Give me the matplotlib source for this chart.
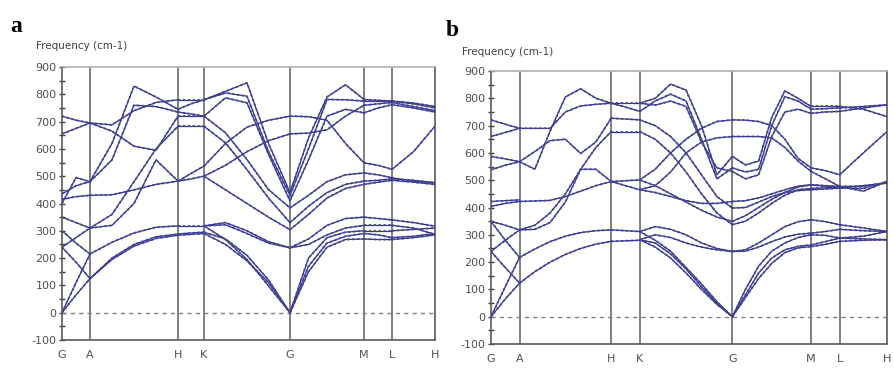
import numpy as np
import matplotlib
matplotlib.use('Agg')
import matplotlib.pyplot as plt
from matplotlib.ticker import MultipleLocator

plt.rcParams['axes.unicode_minus'] = False

# high symmetry path (same labels for both panels)
klabels = ['G', 'A', 'H', 'K', 'G', 'M', 'L', 'H']
# path position of each label (arbitrary length units)
kpos_a = [0, 28, 116, 142, 228, 302, 330, 373]
kpos_b = [0, 29, 122, 151, 245, 325, 354, 402]

# branches per segment, frequency (cm-1) at evenly spaced points along the segment
a_GA = [[0, 65, 125], [240, 185, 125], [0, 110, 215], [300, 255, 215], [240, 275, 310],
        [350, 330, 310], [415, 425, 430], [400, 495, 480], [435, 465, 480],
        [720, 705, 695], [655, 675, 695]]
a_AH = [[125, 195, 244, 272, 284], [125, 200, 250, 278, 288], [215, 258, 292, 313, 318],
        [310, 320, 400, 560, 482], [310, 360, 480, 600, 683], [430, 432, 450, 470, 482],
        [480, 620, 830, 790, 745], [480, 560, 760, 755, 735], [695, 688, 740, 770, 780],
        [695, 665, 610, 595, 720]]
a_HK = [[284, 287, 290], [288, 292, 295], [318, 318, 318], [482, 490, 500], [482, 510, 537],
        [683, 683, 683], [720, 720, 720], [735, 728, 720], [745, 765, 780], [780, 780, 780]]
a_KG = [[290, 250, 190, 110, 0], [295, 270, 210, 120, 0], [318, 268, 195, 98, 0],
        [318, 330, 300, 260, 238], [318, 322, 290, 255, 238], [500, 450, 400, 350, 304],
        [500, 540, 590, 630, 655], [537, 620, 680, 705, 720], [683, 622, 524, 420, 330],
        [720, 659, 561, 451, 384], [720, 787, 769, 580, 410], [780, 805, 793, 590, 430],
        [780, 811, 842, 620, 440]]
a_GM = [[0, 150, 240, 268, 270], [0, 170, 255, 280, 290], [0, 200, 275, 295, 300],
        [238, 250, 285, 310, 320], [238, 270, 320, 345, 350], [304, 360, 420, 455, 470],
        [330, 390, 440, 470, 482], [384, 430, 480, 505, 512], [410, 560, 720, 745, 732],
        [430, 600, 781, 780, 775], [440, 640, 790, 835, 781], [720, 718, 705, 620, 549],
        [655, 658, 670, 720, 760]]
a_ML = [[270, 268, 268], [290, 285, 275], [300, 300, 300], [320, 320, 320], [350, 345, 340],
        [470, 478, 485], [482, 485, 490], [512, 505, 494], [549, 540, 525], [732, 750, 762],
        [760, 765, 770], [775, 775, 775], [781, 778, 775]]
a_LH = [[268, 275, 285], [275, 280, 290], [300, 305, 310], [320, 310, 287], [340, 330, 317],
        [485, 478, 470], [490, 485, 476], [494, 482, 476], [525, 590, 683], [762, 750, 735],
        [770, 755, 740], [775, 765, 750], [775, 768, 755]]

b_GA = [[0, 65, 123], [239, 180, 123], [0, 110, 217], [349, 280, 217], [239, 280, 318],
        [349, 335, 318], [404, 415, 422], [422, 425, 428], [538, 555, 568], [587, 578, 568],
        [660, 675, 690], [721, 705, 690]]
b_AH = [[123, 165, 200, 228, 250, 266, 276], [217, 248, 275, 295, 308, 315, 318],
        [318, 320, 345, 420, 540, 540, 495], [318, 335, 380, 450, 540, 620, 678],
        [422, 424, 426, 440, 460, 480, 495], [568, 540, 680, 805, 835, 800, 782],
        [568, 605, 645, 650, 598, 640, 727], [690, 690, 690, 750, 772, 778, 782]]
b_HK = [[276, 278, 280], [318, 315, 312], [495, 498, 501], [495, 480, 465], [678, 678, 678],
        [727, 724, 721], [782, 768, 752], [782, 782, 782]]
b_KG = [[782, 800, 852, 830, 700, 520, 587], [752, 790, 815, 790, 650, 505, 545],
        [782, 775, 790, 770, 640, 545, 532], [721, 700, 660, 600, 520, 440, 398],
        [678, 650, 600, 530, 450, 380, 337], [501, 540, 600, 650, 690, 715, 721],
        [465, 480, 530, 600, 640, 655, 660], [465, 455, 440, 425, 415, 415, 422],
        [501, 480, 450, 420, 390, 365, 349], [312, 330, 320, 300, 270, 250, 239],
        [282, 300, 290, 270, 255, 245, 239], [282, 270, 230, 175, 110, 50, 0],
        [312, 280, 240, 180, 120, 55, 0], [282, 255, 215, 160, 100, 45, 0]]
b_GM = [[587, 556, 570, 730, 827, 800, 770], [545, 530, 540, 700, 806, 790, 760],
        [532, 505, 520, 660, 750, 760, 745], [721, 720, 715, 700, 650, 580, 545],
        [660, 660, 660, 655, 620, 570, 532], [422, 425, 435, 450, 465, 478, 483],
        [398, 400, 420, 440, 455, 462, 465], [349, 370, 400, 430, 455, 475, 483],
        [337, 350, 380, 415, 445, 465, 470], [239, 245, 270, 300, 330, 348, 355],
        [239, 240, 255, 275, 292, 302, 306], [0, 80, 160, 215, 245, 258, 263],
        [0, 70, 140, 195, 235, 252, 257], [0, 100, 185, 240, 270, 290, 300]]
b_ML = [[770, 770, 770], [760, 762, 765], [745, 750, 752], [545, 535, 520], [532, 505, 477],
        [483, 480, 477], [465, 468, 471], [483, 478, 471], [470, 472, 477], [355, 348, 337],
        [306, 312, 320], [263, 275, 288], [257, 265, 276], [300, 298, 288]]
b_LH = [[770, 760, 733], [765, 770, 776], [752, 765, 776], [520, 600, 678], [477, 460, 495],
        [471, 480, 490], [477, 478, 490], [471, 470, 495], [337, 325, 312], [320, 315, 312],
        [288, 295, 312], [276, 280, 282], [288, 285, 282]]

segs_a = [a_GA, a_AH, a_HK, a_KG, a_GM, a_ML, a_LH]
segs_b = [b_GA, b_AH, b_HK, b_KG, b_GM, b_ML, b_LH]

band_col = '#2a2abc'
dot_col = '#4c4c72'
frame_col = '#5a5a5a'
txt_col = '#505050'


def draw_panel(ax, kpos, segs, letter, lx, ly, fx, fy):
    for i, seg in enumerate(segs):
        for br in seg:
            x = np.linspace(kpos[i], kpos[i + 1], len(br))
            ax.plot(x, br, color=band_col, lw=0.9, zorder=3)
            ax.plot(x, br, color=dot_col, lw=1.3, ls=(0, (1.3, 1.4)), zorder=4)
    for k in kpos[1:-1]:
        ax.axvline(k, color='#6a6a6a', lw=1.2, zorder=2)
    ax.axhline(0, color='#808080', lw=1.0, ls=(0, (3, 3)), zorder=2)
    ax.set_xlim(kpos[0], kpos[-1])
    ax.set_ylim(-100, 900)
    ax.set_xticks(kpos)
    ax.set_xticklabels(klabels)
    ax.yaxis.set_major_locator(MultipleLocator(100))
    ax.yaxis.set_minor_locator(MultipleLocator(50))
    ax.tick_params(axis='y', which='both', direction='inout', length=4, width=1,
                   color='#404040', labelsize=8, labelcolor=txt_col, pad=2)
    ax.tick_params(axis='x', length=0, labelsize=8, labelcolor=txt_col, pad=7)
    for s in ['left', 'bottom', 'right']:
        ax.spines[s].set_color(frame_col)
        ax.spines[s].set_linewidth(1.2)
    ax.spines['top'].set_color('#b0b0b0')
    ax.spines['top'].set_linewidth(1.2)
    fig.text(fx, fy, 'Frequency (cm-1)', fontsize=7.5, color='#404040',
             ha='left', va='center')
    fig.text(lx, ly, letter, fontsize=17, fontweight='bold', family='Liberation Serif',
             ha='left', va='center')


fig = plt.figure(figsize=(8.95, 3.68), dpi=100)
W, H = 895.0, 368.0
ax_a = fig.add_axes([62 / W, 1 - 340 / H, 373 / W, 273 / H])
ax_b = fig.add_axes([491 / W, 1 - 344 / H, 396 / W, 273 / H])

draw_panel(ax_a, kpos_a, segs_a, 'a', 10 / W, 1 - 27 / H, 36 / W, 1 - 46 / H)
draw_panel(ax_b, kpos_b, segs_b, 'b', 446 / W, 1 - 31 / H, 462 / W, 1 - 52 / H)

fig.savefig('out.png', dpi=100)
